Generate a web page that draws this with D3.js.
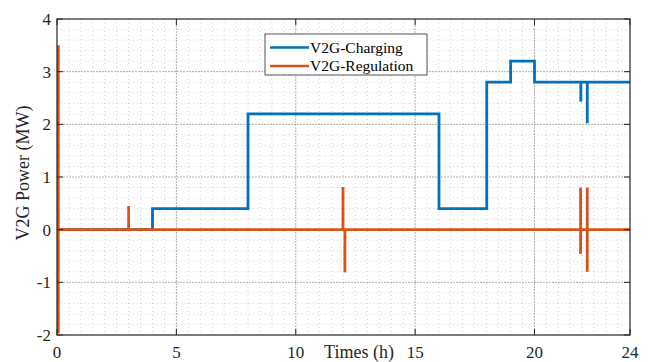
<!DOCTYPE html>
<html><head><meta charset="utf-8">
<script src="https://cdn.jsdelivr.net/npm/d3@7/dist/d3.min.js"></script>
<style>html,body{margin:0;padding:0;background:#fff;overflow:hidden}</style>
</head><body>
<svg id="c" width="650" height="362"></svg>
<script>
// ---- data ----
const xTicks = [0, 5, 10, 15, 20, 24];
const yTicks = [-2, -1, 0, 1, 2, 3, 4];
// V2G-Charging step profile (value holds from t[i] to t[i+1])
const chargeT = [0, 4, 8, 16, 18, 19, 20, 24];
const chargeV = [0, 0.4, 2.2, 0.4, 2.8, 3.2, 2.8, 2.8];
// short dips in charging
const dipT = [21.94, 22.21];
const dipBase = [2.8, 2.8];
const dipLo = [2.43, 2.02];
// V2G-Regulation: zero baseline with short spikes
const regT = [0, 24];
const regV = [0, 0];
const spikeT = [0.0, 3.0, 11.98, 12.06, 21.93, 22.21];
const spikeHi = [3.5, 0.45, 0.81, 0, 0.8, 0.8];
const spikeLo = [-1.97, 0, 0, -0.81, -0.46, -0.8];
const legendLabels = ["V2G-Charging", "V2G-Regulation"];

const blue = "#0072BD", orange = "#D95319";
const svg = d3.select("#c");
const L = 57, R = 630, T = 19, B = 335;
const x = d3.scaleLinear().domain([0, 24]).range([L, R]);
const y = d3.scaleLinear().domain([-2, 4]).range([B, T]);
const font = "'Liberation Serif','Times New Roman',serif";

// minor grid
const g = svg.append("g");
g.selectAll(".mx").data(d3.range(0.5, 24, 0.5).filter(v => v % 5 !== 0))
  .enter().append("line").attr("x1", d => x(d)).attr("x2", d => x(d)).attr("y1", T).attr("y2", B)
  .attr("stroke", "#c8c8c8").attr("stroke-width", 0.8).attr("stroke-dasharray", "1,3");
g.selectAll(".my").data(d3.range(-1.8, 4, 0.2).map(v => Math.round(v * 10) / 10).filter(v => Math.abs(v - Math.round(v)) > 1e-6))
  .enter().append("line").attr("y1", d => y(d)).attr("y2", d => y(d)).attr("x1", L).attr("x2", R)
  .attr("stroke", "#c8c8c8").attr("stroke-width", 0.8).attr("stroke-dasharray", "1,3");
// major grid
g.selectAll(".Mx").data([5, 10, 15, 20]).enter().append("line")
  .attr("x1", d => x(d)).attr("x2", d => x(d)).attr("y1", T).attr("y2", B)
  .attr("stroke", "#b0b0b0").attr("stroke-width", 1).attr("stroke-dasharray", "2,1");
g.selectAll(".My").data([-1, 0, 1, 2, 3]).enter().append("line")
  .attr("y1", d => y(d)).attr("y2", d => y(d)).attr("x1", L).attr("x2", R)
  .attr("stroke", "#b0b0b0").attr("stroke-width", 1).attr("stroke-dasharray", "2,1");

// charging line
const line = d3.line().x(d => x(d[0])).y(d => y(d[1]));
svg.append("path").datum(chargeT.map((t, i) => [t, chargeV[i]]))
  .attr("d", line.curve(d3.curveStepAfter)).attr("fill", "none")
  .attr("stroke", blue).attr("stroke-width", 2.8);
svg.selectAll(".dip").data(dipT).enter().append("line")
  .attr("x1", d => x(d)).attr("x2", d => x(d))
  .attr("y1", (d, i) => y(dipBase[i])).attr("y2", (d, i) => y(dipLo[i]))
  .attr("stroke", blue).attr("stroke-width", 2.8);

// regulation line
const line2 = d3.line().x(d => x(d[0])).y(d => y(d[1]));
svg.append("path").datum(regT.map((t, i) => [t, regV[i]]))
  .attr("d", line2).attr("fill", "none").attr("stroke", orange).attr("stroke-width", 2.8);
svg.selectAll(".spk").data(spikeT).enter().append("line")
  .attr("x1", d => x(d) + (d === 0 ? 1.3 : 0)).attr("x2", d => x(d) + (d === 0 ? 1.3 : 0))
  .attr("y1", (d, i) => y(spikeHi[i])).attr("y2", (d, i) => y(spikeLo[i]))
  .attr("stroke", orange).attr("stroke-width", 2.8);

// axes box
svg.append("rect").attr("x", L).attr("y", T).attr("width", R - L).attr("height", B - T)
  .attr("fill", "none").attr("stroke", "#262626").attr("stroke-width", 1.2);
const tl = 6;
svg.selectAll(".tb").data(xTicks).enter().append("line")
  .attr("x1", d => x(d)).attr("x2", d => x(d)).attr("y1", B).attr("y2", B - tl).attr("stroke", "#262626");
svg.selectAll(".tt").data(xTicks).enter().append("line")
  .attr("x1", d => x(d)).attr("x2", d => x(d)).attr("y1", T).attr("y2", T + tl).attr("stroke", "#262626");
svg.selectAll(".tlft").data(yTicks).enter().append("line")
  .attr("y1", d => y(d)).attr("y2", d => y(d)).attr("x1", L).attr("x2", L + tl).attr("stroke", "#262626");
svg.selectAll(".trt").data(yTicks).enter().append("line")
  .attr("y1", d => y(d)).attr("y2", d => y(d)).attr("x1", R).attr("x2", R - tl).attr("stroke", "#262626");

// tick labels
svg.selectAll(".xl").data(xTicks).enter().append("text")
  .attr("x", d => x(d)).attr("y", 358).attr("text-anchor", "middle")
  .attr("font-family", font).attr("font-size", 17).attr("fill", "#262626").text(d => d);
svg.selectAll(".yl").data(yTicks).enter().append("text")
  .attr("x", 51).attr("y", d => y(d) + 6).attr("text-anchor", "end")
  .attr("font-family", font).attr("font-size", 17).attr("fill", "#262626").text(d => d);

// axis labels
svg.append("text").attr("x", 359).attr("y", 357.5).attr("text-anchor", "middle")
  .attr("font-family", font).attr("font-size", 18).attr("fill", "#262626").text("Times (h)");
svg.append("text").attr("transform", "translate(29,173) rotate(-90)").attr("text-anchor", "middle")
  .attr("font-family", font).attr("font-size", 18).attr("fill", "#262626").text("V2G Power (MW)");

// legend
const lg = svg.append("g");
lg.append("rect").attr("x", 265).attr("y", 34).attr("width", 162).attr("height", 41)
  .attr("fill", "#fff").attr("stroke", "#262626").attr("stroke-width", 0.8);
const lc = [blue, orange];
legendLabels.forEach((t, i) => {
  const yy = 47.5 + i * 18.5;
  lg.append("line").attr("x1", 270).attr("x2", 309).attr("y1", yy).attr("y2", yy)
    .attr("stroke", lc[i]).attr("stroke-width", 2.6);
  lg.append("text").attr("x", 310).attr("y", yy + 5).attr("font-family", font)
    .attr("font-size", 15.5).attr("fill", "#000").text(t);
});
</script>
</body></html>
